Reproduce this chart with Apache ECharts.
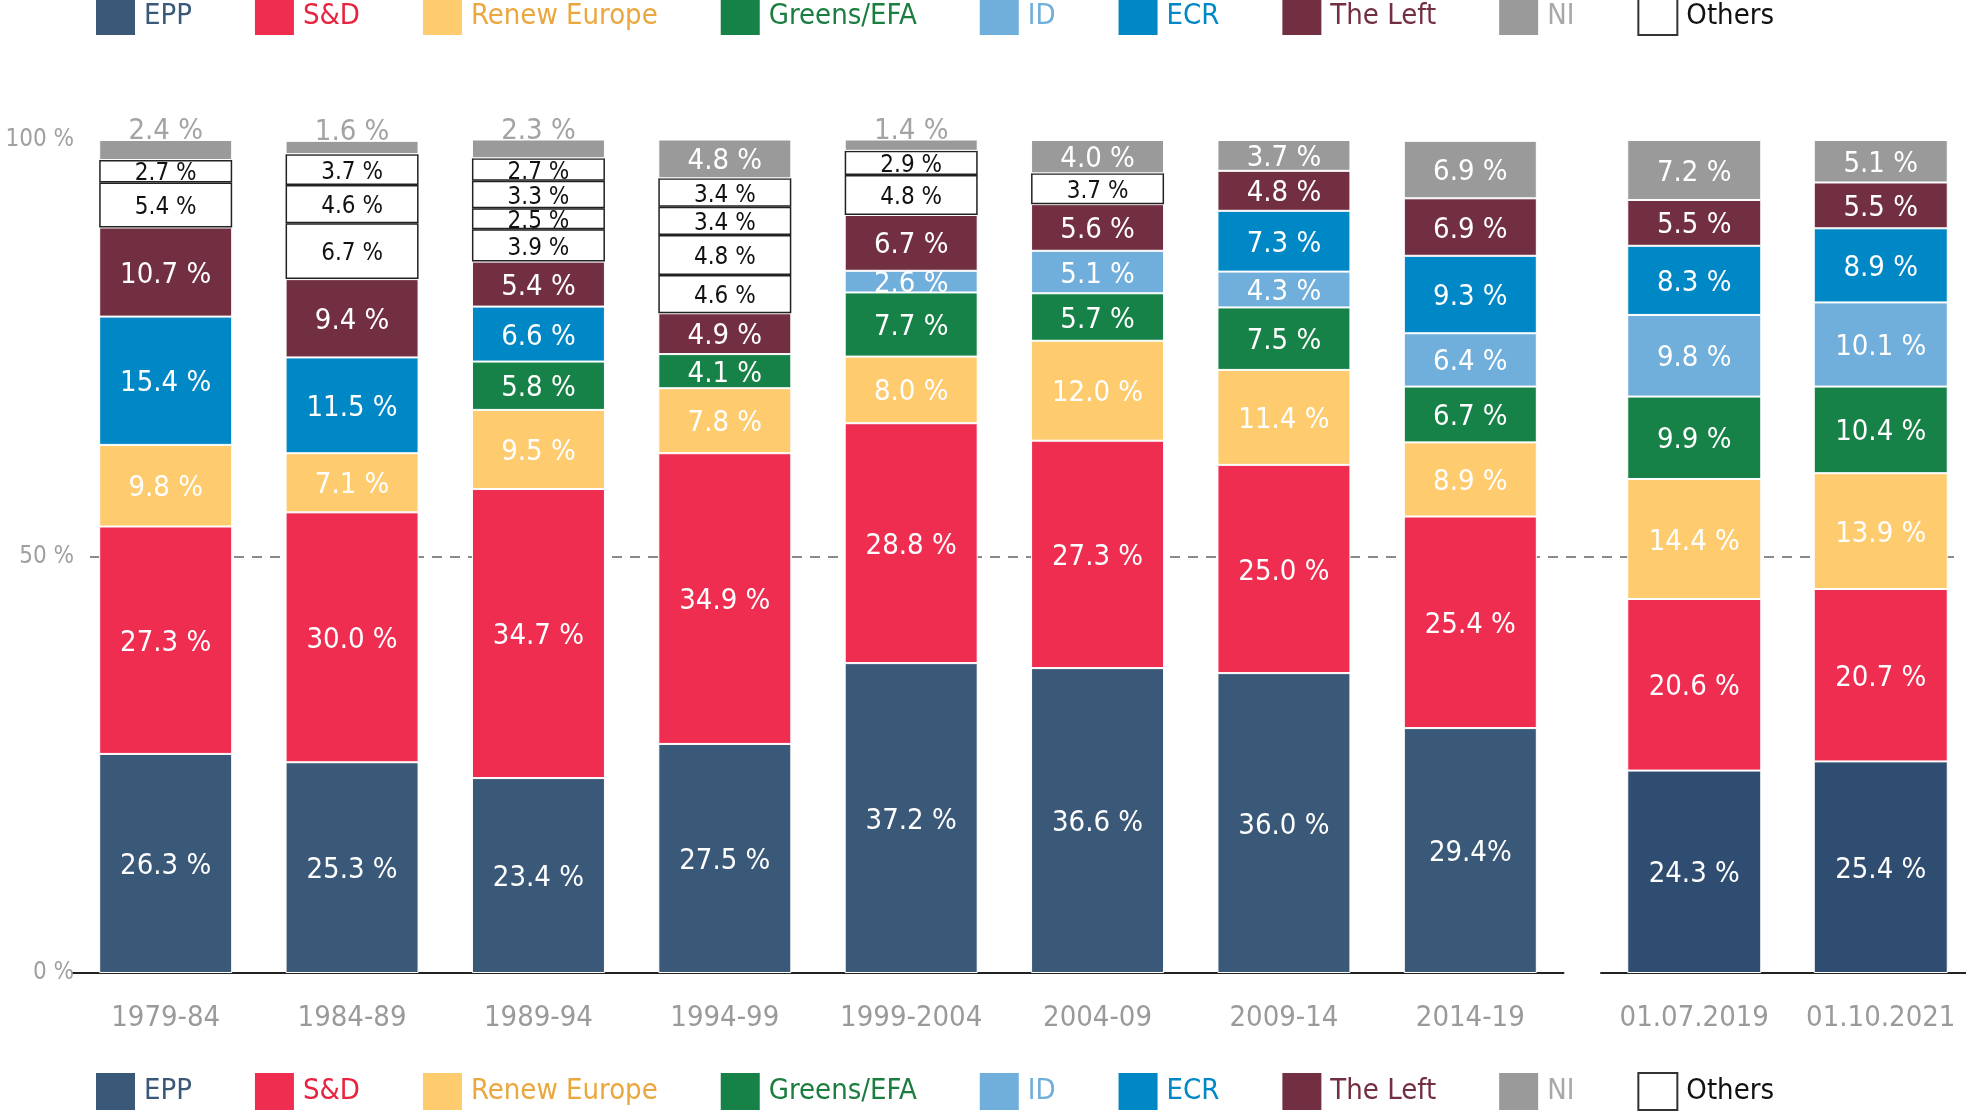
<!DOCTYPE html>
<html>
<head>
<meta charset="utf-8">
<script src="https://cdn.jsdelivr.net/npm/echarts@6/dist/echarts.min.js"></script>
<style>
  html, body { margin: 0; padding: 0; background: #fff; }
  #chart { width: 1966px; height: 1113px; }
</style>
</head>
<body>
<div id="chart"></div>
<script>
'use strict';
var FONT = "'Liberation Sans Narrow', 'DejaVu Sans Condensed', 'Roboto', sans-serif";

var categories = ['1979-84', '1984-89', '1989-94', '1994-99', '1999-2004', '2004-09', '2009-14', '2014-19', '01.07.2019', '01.10.2021'];

var epp     = [26.3, 25.3, 23.4, 27.5, 37.2, 36.6, 36.0, 29.4, 24.3, 25.4];
var sd      = [27.3, 30.0, 34.7, 34.9, 28.8, 27.3, 25.0, 25.4, 20.6, 20.7];
var renew   = [9.8, 7.1, 9.5, 7.8, 8.0, 12.0, 11.4, 8.9, 14.4, 13.9];
var greens  = [null, null, 5.8, 4.1, 7.7, 5.7, 7.5, 6.7, 9.9, 10.4];
var idGroup = [null, null, null, null, 2.6, 5.1, 4.3, 6.4, 9.8, 10.1];
var ecr     = [15.4, 11.5, 6.6, null, null, null, 7.3, 9.3, 8.3, 8.9];
var left    = [10.7, 9.4, 5.4, 4.9, 6.7, 5.6, 4.8, 6.9, 5.5, 5.5];
// "Others" are several separate boxes, listed bottom to top
var others1 = [5.4, 6.7, 3.9, 4.6, 4.8, 3.7, null, null, null, null];
var others2 = [2.7, 4.6, 2.5, 4.8, 2.9, null, null, null, null, null];
var others3 = [null, 3.7, 3.3, 3.4, null, null, null, null, null, null];
var others4 = [null, null, 2.7, 3.4, null, null, null, null, null, null];
var ni      = [2.4, 1.6, 2.3, 4.8, 1.4, 4.0, 3.7, 6.9, 7.2, 5.1];

var legendOrder = ['EPP', 'S&D', 'Renew Europe', 'Greens/EFA', 'ID', 'ECR', 'The Left', 'NI', 'Others'];

var parties = [
  {name: 'EPP', data: epp, color: '#3a5878', text: '#3a5878'},
  {name: 'S&D', data: sd, color: '#ef2d51', text: '#e8233f'},
  {name: 'Renew Europe', data: renew, color: '#fecb6e', text: '#eaa73d'},
  {name: 'Greens/EFA', data: greens, color: '#178247', text: '#1b7d3f'},
  {name: 'ID', data: idGroup, color: '#70aedb', text: '#70aedb'},
  {name: 'ECR', data: ecr, color: '#0087c5', text: '#0087c5'},
  {name: 'The Left', data: left, color: '#732f42', text: '#732f42'},
  {name: 'Others', data: others1, color: '#fff', text: '#111', others: true},
  {name: 'Others', data: others2, color: '#fff', text: '#111', others: true},
  {name: 'Others', data: others3, color: '#fff', text: '#111', others: true},
  {name: 'Others', data: others4, color: '#fff', text: '#111', others: true},
  {name: 'NI', data: ni, color: '#9a9a9a', text: '#a8a8a8'}
];

function fmt(p) {
  if (p.seriesName === 'EPP' && p.name === '2014-19') return p.value.toFixed(1) + '%';
  return p.value.toFixed(1) + ' %';
}

var series = [];
[[0, 8], [8, 10]].forEach(function (range, g) {
  parties.forEach(function (party) {
    var color = party.color;
    if (g === 1 && party.name === 'EPP') color = '#2f4d71';
    var data = party.data.slice(range[0], range[1]).map(function (v) {
      // tiny NI shares are written above the bar
      if (party.name === 'NI' && v !== null && v < 3) {
        return {value: v, label: {position: 'top', distance: -3, color: '#a3a3a3', fontSize: 29}};
      }
      return v;
    });
    series.push({
      name: party.name,
      type: 'bar',
      stack: 'grid' + g,
      xAxisIndex: g,
      yAxisIndex: g,
      barWidth: g === 0 ? 133 : 134,
      data: data,
      itemStyle: {
        color: color,
        borderColor: party.others ? '#222' : '#fff',
        borderWidth: party.others ? 1.5 : 1
      },
      label: {
        show: true,
        position: 'inside',
        color: party.others ? '#111' : '#fff',
        fontSize: party.others ? 24 : 29,
        fontFamily: FONT,
        textBorderWidth: 0,
        offset: [0, 3],
        formatter: fmt
      }
    });
  });
});

var legendData = legendOrder.map(function (name) {
  var party = parties.filter(function (p) { return p.name === name; })[0];
  var item = {name: name, textStyle: {color: party.text}};
  if (party.others) item.itemStyle = {borderColor: '#333', borderWidth: 2};
  return item;
});

function makeLegend(pos) {
  var l = {
    data: legendData,
    left: 96,
    orient: 'horizontal',
    icon: 'rect',
    itemWidth: 39,
    itemHeight: 37,
    itemGap: 63,
    padding: 0,
    selectedMode: false,
    itemStyle: {borderWidth: 0},
    textStyle: {fontSize: 29, fontFamily: FONT, padding: [0, 0, 0, 4]}
  };
  for (var k in pos) l[k] = pos[k];
  return l;
}

var axisLabelStyle = {color: '#9a9a9a', fontSize: 29, fontFamily: FONT, margin: 31, interval: 0};

var myChart = echarts.init(document.getElementById('chart'));
var option = {
  animation: false,
  textStyle: {fontFamily: FONT},
  legend: [makeLegend({bottom: 2}), makeLegend({top: -3})],
  grid: [
    {left: 72.5, width: 1491, top: 140, bottom: 140, outerBoundsMode: 'none'},
    {left: 1601, width: 373, top: 140, bottom: 140, outerBoundsMode: 'none'},
    {left: 90, right: 6, top: 140, bottom: 140, outerBoundsMode: 'none'}
  ],
  xAxis: [
    {
      type: 'category', gridIndex: 0, data: categories.slice(0, 8),
      axisLine: {lineStyle: {color: '#222', width: 2}},
      axisTick: {show: false},
      axisLabel: axisLabelStyle
    },
    {
      type: 'category', gridIndex: 1, data: categories.slice(8),
      axisLine: {lineStyle: {color: '#222', width: 2}},
      axisTick: {show: false},
      axisLabel: axisLabelStyle
    },
    {type: 'value', gridIndex: 2, show: false}
  ],
  yAxis: [
    {type: 'value', gridIndex: 0, min: 0, max: 100, show: false},
    {type: 'value', gridIndex: 1, min: 0, max: 100, show: false},
    {
      type: 'value', gridIndex: 2, min: 0, max: 100, interval: 50,
      axisLine: {show: false},
      axisTick: {show: false},
      axisLabel: {formatter: '{value} %', color: '#a0a0a0', fontSize: 24, fontFamily: FONT, margin: 16},
      splitLine: {
        show: true,
        showMinLine: true,
        showMaxLine: true,
        lineStyle: {color: ['transparent', '#666', 'transparent'], type: [10, 8], width: 1.5}
      }
    }
  ],
  series: series
};

myChart.setOption(option);
</script>
</body>
</html>
